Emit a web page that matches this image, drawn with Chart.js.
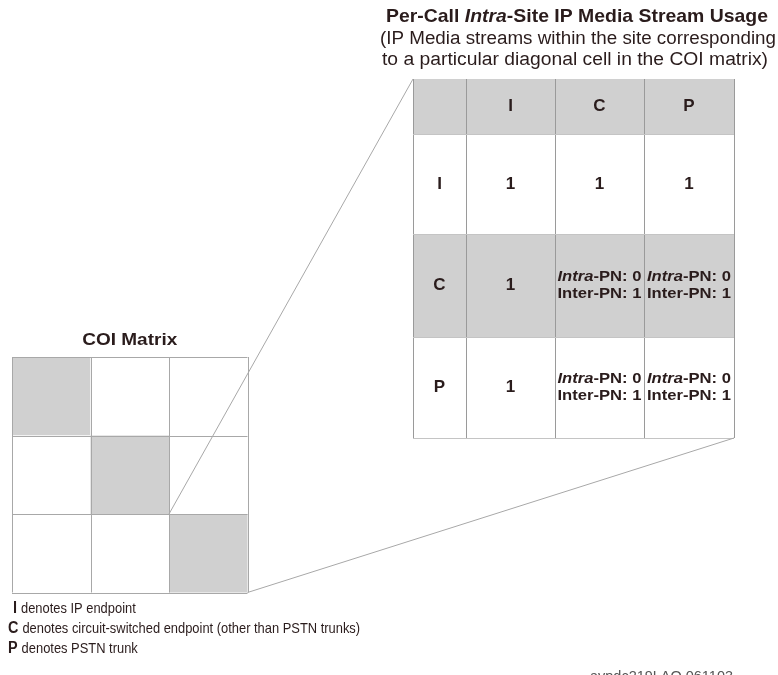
<!DOCTYPE html>
<html>
<head>
<meta charset="utf-8">
<script src="https://cdn.jsdelivr.net/npm/chart.js@4.4.1/dist/chart.umd.min.js"></script>
<style>
  html, body { margin: 0; padding: 0; background: #fff; }
  #wrap { position: relative; width: 778px; height: 675px; }
</style>
</head>
<body>
<div id="wrap"><canvas id="coiChart"></canvas></div>
<script>
// ---- data ----
const endpointTypes = ['I', 'C', 'P'];
const coiShaded = [
    [1, 0, 0],
    [0, 1, 0],
    [0, 0, 1]
];
const tableCols = ['I', 'C', 'P'];
const tableRows = ['I', 'C', 'P'];
const rowShaded = [false, true, false];
const mixed = ['Intra-PN: 0', 'Inter-PN: 1'];
const tableCells = [
    [['1'], ['1'], ['1']],
    [['1'], mixed, mixed],
    [['1'], mixed, mixed]
];
const titleText = 'Per-Call Intra-Site IP Media Stream Usage';
const subtitleLines = [
    '(IP Media streams within the site corresponding',
    'to a particular diagonal cell in the COI matrix)'
];
const matrixTitle = 'COI Matrix';
const legendTexts = [
    'denotes IP endpoint',
    'denotes circuit-switched endpoint (other than PSTN trunks)',
    'denotes PSTN trunk'
];
const figureId = 'avpdc219LAO 061103';

// ---- layout (diagram units = px) ----
const coi = { x: 12, y: 357, cell: 78.5 };
const tbl = { xs: [413, 466, 555, 644, 734], ys: [79, 134, 234, 337, 438] };

const FONT = '"Liberation Sans", Arial, Helvetica, sans-serif';
const INK = '#2a1c1c';
const GRAY = '#d0d0d0';
const LINE = '#a8a8a8';
const NARROW = 0.86; // condensed look of the note text

const coiRight = coi.x + coi.cell * endpointTypes.length;
const coiBottom = coi.y + coi.cell * endpointTypes.length;
const diagCorner = { x: coi.x + coi.cell * 2, y: coi.y + coi.cell * 2 };

// draw a row of text runs; optional width to fit (horizontal squeeze/stretch)
function drawRuns(ctx, runs, x, y, opts) {
    opts = opts || {};
    let total = 0;
    runs.forEach(r => { ctx.font = r.font; total += ctx.measureText(r.text).width; });
    let sx = opts.width ? opts.width / total : (opts.scale || 1);
    const w = total * sx;
    let left = opts.align === 'left' ? x : x - w / 2;
    ctx.save();
    ctx.translate(left, y);
    ctx.scale(sx, 1);
    ctx.textAlign = 'left';
    ctx.textBaseline = opts.baseline || 'middle';
    let cur = 0;
    runs.forEach(r => {
        ctx.font = r.font;
        ctx.fillText(r.text, cur, 0);
        cur += ctx.measureText(r.text).width;
    });
    ctx.restore();
    return w;
}

function italicRuns(text, size, bold) {
    const w = bold ? 'bold ' : '';
    const idx = text.indexOf('Intra');
    if (idx < 0) return [{ text: text, font: w + size + 'px ' + FONT }];
    return [
        { text: text.slice(0, idx), font: w + size + 'px ' + FONT },
        { text: 'Intra', font: 'italic ' + w + size + 'px ' + FONT },
        { text: text.slice(idx + 5), font: w + size + 'px ' + FONT }
    ];
}

const diagramPlugin = {
    id: 'diagram',
    beforeDatasetsDraw(chart) {
        const ctx = chart.ctx;
        const px = v => chart.scales.x.getPixelForValue(v);
        const py = v => chart.scales.y.getPixelForValue(v);
        ctx.save();
        // COI matrix cells
        coiShaded.forEach((row, r) => {
            row.forEach((v, c) => {
                const x0 = px(coi.x + c * coi.cell), x1 = px(coi.x + (c + 1) * coi.cell);
                const y0 = py(coi.y + r * coi.cell), y1 = py(coi.y + (r + 1) * coi.cell);
                ctx.fillStyle = v ? GRAY : '#fff';
                ctx.fillRect(x0, y0, x1 - x0, y1 - y0);
            });
        });
        ctx.strokeStyle = LINE;
        ctx.lineWidth = 1;
        for (let i = 0; i <= endpointTypes.length; i++) {
            const xv = Math.round(px(coi.x + i * coi.cell)) + 0.5;
            const yv = Math.round(py(coi.y + i * coi.cell)) + 0.5;
            ctx.beginPath();
            ctx.moveTo(xv, py(coi.y)); ctx.lineTo(xv, py(coiBottom));
            ctx.moveTo(px(coi.x), yv); ctx.lineTo(px(coiRight), yv);
            ctx.stroke();
        }
        // stream usage table cells
        const shades = [true].concat(rowShaded);
        shades.forEach((s, r) => {
            if (!s) return;
            const y0 = py(tbl.ys[r]), y1 = py(tbl.ys[r + 1]);
            ctx.fillStyle = GRAY;
            ctx.fillRect(px(tbl.xs[0]), y0, px(tbl.xs[tbl.xs.length - 1]) - px(tbl.xs[0]), y1 - y0);
        });
        ctx.strokeStyle = '#9a9a9a';
        tbl.xs.forEach(xv => {
            const x = Math.round(px(xv)) + 0.5;
            ctx.beginPath(); ctx.moveTo(x, py(tbl.ys[0])); ctx.lineTo(x, py(tbl.ys[tbl.ys.length - 1])); ctx.stroke();
        });
        ctx.strokeStyle = '#c4c4c4';
        tbl.ys.forEach((yv, i) => {
            if (i === 0) return;
            const y = Math.round(py(yv)) + 0.5;
            ctx.beginPath(); ctx.moveTo(px(tbl.xs[0]), y); ctx.lineTo(px(tbl.xs[tbl.xs.length - 1]), y); ctx.stroke();
        });
        ctx.restore();
    },
    afterDatasetsDraw(chart) {
        const ctx = chart.ctx;
        const px = v => chart.scales.x.getPixelForValue(v);
        const py = v => chart.scales.y.getPixelForValue(v);
        ctx.save();
        ctx.fillStyle = INK;
        const cx = i => px((tbl.xs[i] + tbl.xs[i + 1]) / 2);
        const cy = i => py((tbl.ys[i] + tbl.ys[i + 1]) / 2);
        // header
        tableCols.forEach((c, i) => drawRuns(ctx, [{ text: c, font: 'bold 17px ' + FONT }], cx(i + 1), cy(0)));
        tableRows.forEach((rLabel, r) => {
            drawRuns(ctx, [{ text: rLabel, font: 'bold 17px ' + FONT }], cx(0), cy(r + 1));
            tableCells[r].forEach((lines, c) => {
                lines.forEach((t, k) => {
                    const off = (k - (lines.length - 1) / 2) * 17;
                    if (lines.length > 1) {
                        drawRuns(ctx, italicRuns(t, 15, true), cx(c + 1), cy(r + 1) + off, { width: 84 });
                    } else {
                        drawRuns(ctx, italicRuns(t, 17, true), cx(c + 1), cy(r + 1) + off);
                    }
                });
            });
        });
        // titles
        drawRuns(ctx, italicRuns(titleText, 19, true), px(577), py(17), { width: 382 });
        drawRuns(ctx, [{ text: subtitleLines[0], font: '18px ' + FONT }], px(578), py(39), { width: 396 });
        drawRuns(ctx, [{ text: subtitleLines[1], font: '18px ' + FONT }], px(575), py(60), { width: 386 });
        drawRuns(ctx, [{ text: matrixTitle, font: 'bold 17px ' + FONT }], px((coi.x + coiRight) / 2), py(340), { width: 95 });
        // legend notes
        const keyX = [13, 8, 8];
        endpointTypes.forEach((k, i) => {
            const y = py(609 + i * 20);
            const kw = drawRuns(ctx, [{ text: k, font: 'bold 16px ' + FONT }], px(keyX[i]), y, { align: 'left', scale: 0.9 });
            drawRuns(ctx, [{ text: legendTexts[i], font: '15px ' + FONT }], px(keyX[i]) + kw + 4, y, { align: 'left', scale: NARROW });
        });
        ctx.fillStyle = '#555';
        drawRuns(ctx, [{ text: figureId, font: '14px ' + FONT }], px(590), py(681), { align: 'left', width: 143, baseline: 'alphabetic' });
        ctx.restore();
    }
};

const connectorStyle = { showLine: true, borderColor: LINE, borderWidth: 1, pointRadius: 0, fill: false, tension: 0 };

new Chart(document.getElementById('coiChart'), {
    type: 'scatter',
    data: {
        datasets: [
            Object.assign({ label: 'upper', data: [diagCorner, { x: tbl.xs[0], y: tbl.ys[0] }] }, connectorStyle),
            Object.assign({ label: 'lower', data: [{ x: coiRight, y: coiBottom }, { x: tbl.xs[tbl.xs.length - 1], y: tbl.ys[tbl.ys.length - 1] }] }, connectorStyle)
        ]
    },
    options: {
        responsive: true,
        maintainAspectRatio: false,
        animation: false,
        layout: { padding: 0 },
        plugins: { legend: { display: false }, tooltip: { enabled: false } },
        scales: {
            x: { type: 'linear', min: 0, max: 778, display: false },
            y: { type: 'linear', min: 0, max: 675, reverse: true, display: false }
        }
    },
    plugins: [diagramPlugin]
});
</script>
</body>
</html>
